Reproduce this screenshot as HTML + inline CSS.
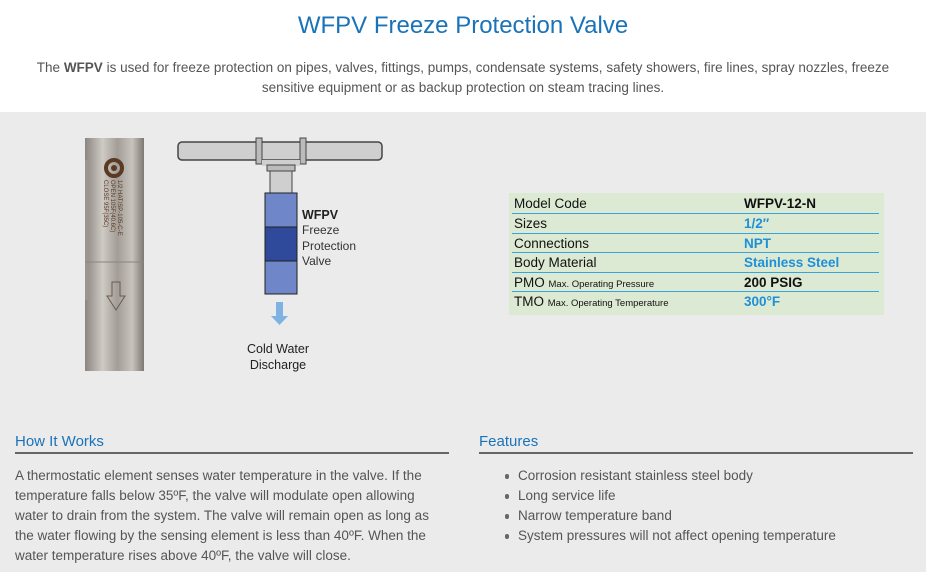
<!DOCTYPE html>
<html><head><meta charset="utf-8"><style>
*{margin:0;padding:0;box-sizing:border-box}
body{width:926px;height:572px;overflow:hidden;background:#ebebeb;font-family:"Liberation Sans",sans-serif;position:relative;color:#555}
.a{position:absolute;white-space:nowrap}
#top{position:absolute;left:0;top:0;width:926px;height:112px;background:#fff}
h1{position:absolute;left:0;width:926px;top:12px;text-align:center;font-weight:normal;font-size:24px;color:#1a73b8}
.intro{position:absolute;left:20px;width:886px;top:58px;text-align:center;font-size:13.5px;line-height:20px;color:#555}
.tbl{position:absolute;left:509px;top:193px;width:375px;height:122px;background:#dcead3}
.row{position:absolute;left:3px;width:367px;height:19.6px;border-bottom:1.5px solid #3ba3dc;font-size:13.5px;color:#111}
.row .k{position:absolute;left:2px;top:2px}
.row .v{position:absolute;left:232px;top:2px;font-weight:bold}
.row small{font-size:9.5px}
.blue{color:#1e90d8}
.hd{position:absolute;font-size:15px;color:#1a73b8}
.ul{position:absolute;height:2px;background:#666}
.p{position:absolute;font-size:13.5px;line-height:20px;color:#555;white-space:nowrap}
li{list-style:none;position:relative;padding-left:0}
li:before{content:"";position:absolute;left:-13px;top:8px;width:4px;height:5px;background:#666;border-radius:2px}
</style></head><body>
<div id="top"></div>
<h1>WFPV Freeze Protection Valve</h1>
<div class="intro">The <b>WFPV</b> is used for freeze protection on pipes, valves, fittings, pumps, condensate systems, safety showers, fire lines, spray nozzles, freeze sensitive equipment or as backup protection on steam tracing lines.</div>

<svg class="a" style="left:0;top:112px" width="480" height="300">
<defs><linearGradient id="m" x1="0" x2="1"><stop offset="0" stop-color="#8a8580"/><stop offset="0.3" stop-color="#cfcac4"/><stop offset="0.55" stop-color="#a29d97"/><stop offset="0.8" stop-color="#c8c3bd"/><stop offset="1" stop-color="#7d7873"/></linearGradient></defs>
<rect x="85" y="26" width="59" height="233" fill="url(#m)"/>
<rect x="85" y="48" width="4" height="140" fill="#9a958f"/>
<line x1="85" y1="150" x2="144" y2="150" stroke="#8a857f"/>
<circle cx="114" cy="56" r="8" fill="none" stroke="#5a3a22" stroke-width="4"/>
<circle cx="114" cy="56" r="3" fill="#5a3a22"/>
<text x="0" y="0" transform="translate(118,68) rotate(90)" font-size="6" fill="#5a3a22">1/2 HAT/SP-105-C-E</text>
<text x="0" y="0" transform="translate(111,68) rotate(90)" font-size="6" fill="#5a3a22">OPEN 105F(40.6C)</text>
<text x="0" y="0" transform="translate(104,68) rotate(90)" font-size="6" fill="#5a3a22">CLOSE 95F(35C)</text>
<path d="M112,170 h8 v14 h5 l-9,14 l-9,-14 h5z" fill="none" stroke="#6a5a4a"/>
<rect x="178" y="30" width="204" height="18" rx="4" fill="#cfcfcf" stroke="#444" stroke-width="1.5"/>
<rect x="256" y="26" width="6" height="26" fill="#bbb" stroke="#444"/>
<rect x="300" y="26" width="6" height="26" fill="#bbb" stroke="#444"/>
<path d="M262,48 h38 v6 h-38z" fill="#cfcfcf"/>
<rect x="267" y="53" width="28" height="6" fill="#bbb" stroke="#444"/>
<rect x="270" y="59" width="22" height="22" fill="#cfcfcf" stroke="#444"/>
<rect x="265" y="81" width="32" height="34" fill="#6f86c8" stroke="#222"/>
<rect x="265" y="115" width="32" height="34" fill="#2f4a9a" stroke="#222"/>
<rect x="265" y="149" width="32" height="33" fill="#6f86c8" stroke="#222"/>
<path d="M276,190 h7 v14 h5 l-8.5,9 l-8.5,-9 h5z" fill="#7fb2e3"/>
<text x="302" y="107" font-size="12.5" font-weight="bold" fill="#222">WFPV</text>
<text x="302" y="122" font-size="12" fill="#333">Freeze</text>
<text x="302" y="138" font-size="12" fill="#333">Protection</text>
<text x="302" y="153" font-size="12" fill="#333">Valve</text>
<text x="278" y="241" font-size="12.5" fill="#222" text-anchor="middle">Cold Water</text>
<text x="278" y="257" font-size="12.5" fill="#222" text-anchor="middle">Discharge</text>
</svg>

<div class="tbl">
<div class="row" style="top:1px"><span class="k">Model Code</span><span class="v">WFPV-12-N</span></div>
<div class="row" style="top:21px"><span class="k">Sizes</span><span class="v blue">1/2″</span></div>
<div class="row" style="top:40.5px"><span class="k">Connections</span><span class="v blue">NPT</span></div>
<div class="row" style="top:60px"><span class="k">Body Material</span><span class="v blue">Stainless Steel</span></div>
<div class="row" style="top:79.5px"><span class="k">PMO <small>Max. Operating Pressure</small></span><span class="v">200 PSIG</span></div>
<div class="row" style="top:99px;border:none"><span class="k">TMO <small>Max. Operating Temperature</small></span><span class="v blue">300°F</span></div>
</div>

<div class="hd" style="left:15px;top:433px">How It Works</div>
<div class="ul" style="left:15px;top:452px;width:434px"></div>
<div class="hd" style="left:479px;top:433px">Features</div>
<div class="ul" style="left:479px;top:452px;width:434px"></div>
<div class="p" style="left:15px;top:466px">A thermostatic element senses water temperature in the valve. If the<br>temperature falls below 35ºF, the valve will modulate open allowing<br>water to drain from the system. The valve will remain open as long as<br>the water flowing by the sensing element is less than 40ºF. When the<br>water temperature rises above 40ºF, the valve will close.</div>
<ul class="p" style="left:518px;top:466px">
<li>Corrosion resistant stainless steel body</li>
<li>Long service life</li>
<li>Narrow temperature band</li>
<li>System pressures will not affect opening temperature</li>
</ul>
</body></html>
